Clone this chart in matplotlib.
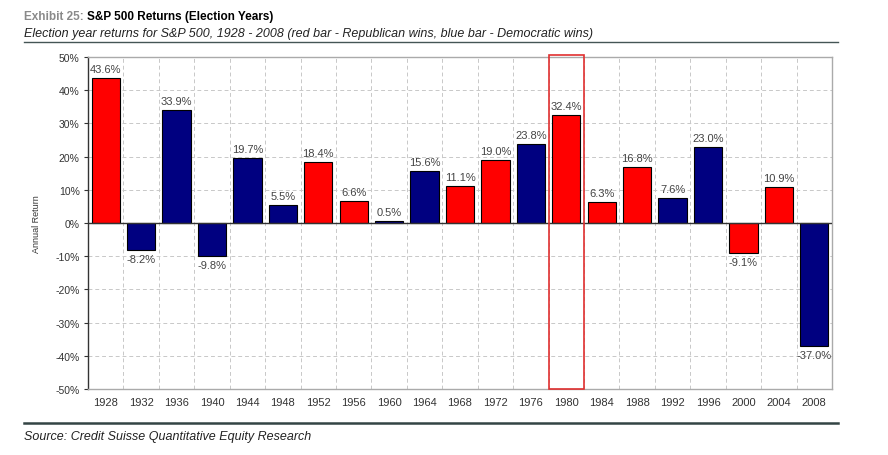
import matplotlib
matplotlib.use("Agg")
import matplotlib.pyplot as plt
from matplotlib.patches import Rectangle
from matplotlib.lines import Line2D
from matplotlib.ticker import FuncFormatter, MultipleLocator

plt.rcParams['font.family'] = ['Liberation Sans', 'DejaVu Sans']

years = ["1928", "1932", "1936", "1940", "1944", "1948", "1952", "1956", "1960", "1964",
         "1968", "1972", "1976", "1980", "1984", "1988", "1992", "1996", "2000", "2004", "2008"]
returns = [43.6, -8.2, 33.9, -9.8, 19.7, 5.5, 18.4, 6.6, 0.5, 15.6,
           11.1, 19.0, 23.8, 32.4, 6.3, 16.8, 7.6, 23.0, -9.1, 10.9, -37.0]
winner = ["R", "D", "D", "D", "D", "D", "R", "R", "D", "D",
          "R", "R", "D", "R", "R", "R", "D", "D", "R", "R", "D"]
highlight_year = "1980"

colors = {"R": "#FF0000", "D": "#000080"}

fig = plt.figure(figsize=(8.88, 4.56), dpi=100)
ax = fig.add_axes([88/888, 1-390/456, (832-88)/888, (390-58)/456])

x = list(range(len(years)))
ax.bar(x, returns, width=0.8, color=[colors[w] for w in winner],
       edgecolor="black", linewidth=0.8, zorder=3)

for xi, v in zip(x, returns):
    if v >= 0:
        ax.text(xi, v + 1.2, f"{v:.1f}%", ha="center", va="bottom", fontsize=8, color="#444444", zorder=4)
    else:
        ax.text(xi, v - 1.2, f"{v:.1f}%", ha="center", va="top", fontsize=8, color="#444444", zorder=4)

ax.set_xlim(-0.5, len(years) - 0.5)
ax.set_ylim(-50, 50)
ax.yaxis.set_major_locator(MultipleLocator(10))
ax.yaxis.set_major_formatter(FuncFormatter(lambda v, p: f"{v:.0f}%"))
ax.set_xticks(x)
ax.set_xticklabels(years, fontsize=8, color="#333333")
ax.tick_params(axis="x", length=0, pad=6)
ax.tick_params(axis="y", labelsize=7.5, labelcolor="#333333", length=3, width=0.8, color="#333333", pad=3)

# gridlines
ax.set_xticks([i + 0.5 for i in range(len(years) - 1)], minor=True)
ax.grid(which="minor", axis="x", color="#c8c8c8", linestyle=(0, (4, 3)), linewidth=0.7, zorder=0)
ax.grid(which="major", axis="y", color="#c8c8c8", linestyle=(0, (4, 3)), linewidth=0.7, zorder=0)
ax.tick_params(axis="x", which="minor", length=0)

for s in ["top", "right", "bottom"]:
    ax.spines[s].set_color("#aaaaaa")
    ax.spines[s].set_linewidth(1.0)
ax.spines["left"].set_color("#333333")
ax.spines["left"].set_linewidth(1.0)
ax.axhline(0, color="#333333", linewidth=1.0, zorder=4)

ax.set_ylabel("Annual Return", fontsize=6.5, color="#333333", labelpad=10)

# highlight box
hi = years.index(highlight_year)
ax.add_patch(Rectangle((hi - 0.5, -50), 1.0, 100.5, fill=False, edgecolor="#e03030",
                       linewidth=1.2, zorder=5, clip_on=False))

# title
t1 = fig.text(24/888, 1-17/456, "Exhibit 25: ", fontsize=8.5, fontweight="bold", color="#8a8a8a", va="center", ha="left")
fig.canvas.draw()
bb = t1.get_window_extent()
fig.text(bb.x1/888, 1-17/456, "S&P 500 Returns (Election Years)", fontsize=8.5, fontweight="bold",
         color="black", va="center", ha="left")
fig.text(24/888, 1-34/456, "Election year returns for S&P 500, 1928 - 2008 (red bar - Republican wins, blue bar - Democratic wins)",
         fontsize=9, style="italic", color="#222222", va="center", ha="left")
fig.add_artist(Line2D([24/888, 838/888], [1-43/456, 1-43/456], color="#445555", linewidth=1.0))
fig.add_artist(Line2D([24/888, 838/888], [1-424/456, 1-424/456], color="#334444", linewidth=1.8))
fig.text(24/888, 1-437/456, "Source: Credit Suisse Quantitative Equity Research",
         fontsize=9, style="italic", color="#222222", va="center", ha="left")

fig.savefig("out.png", dpi=100)
